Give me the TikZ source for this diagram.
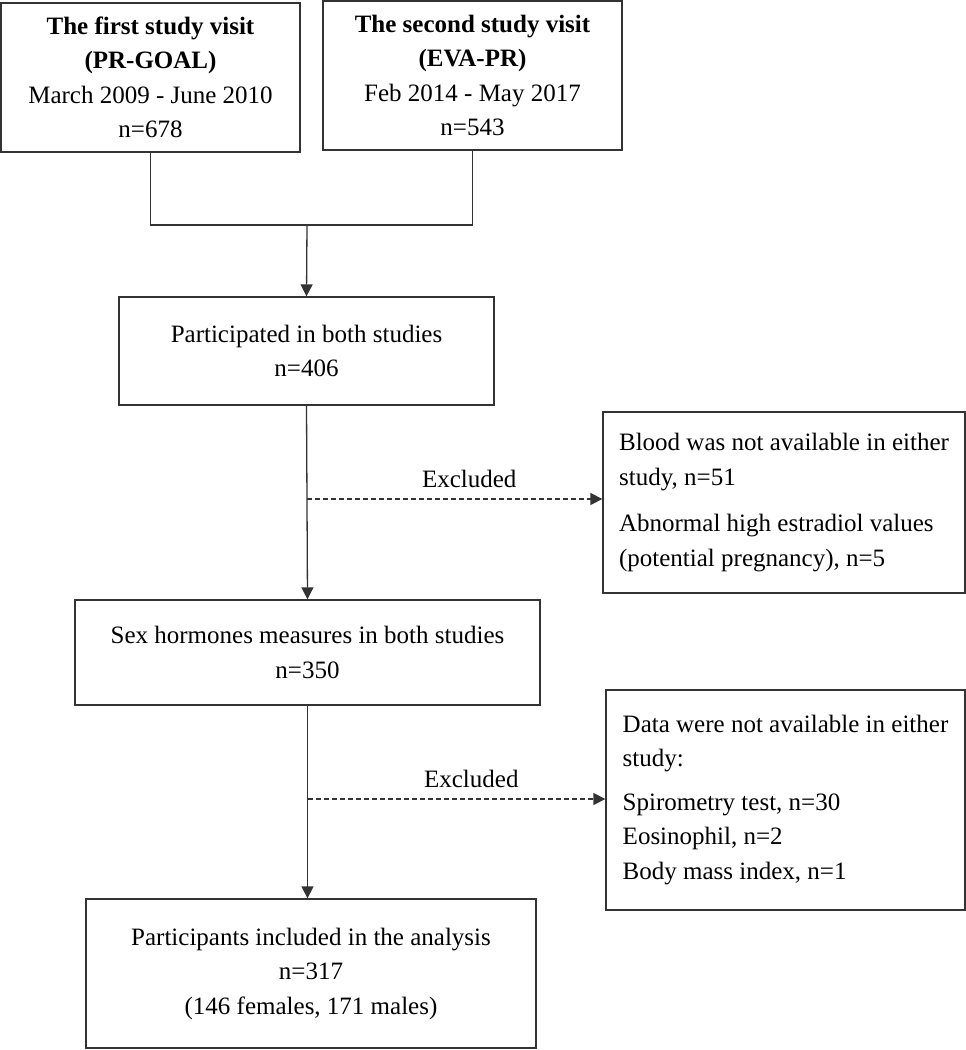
\documentclass[tikz,border=0pt]{standalone}
\usepackage{fontspec}
\setmainfont{Liberation Serif}
\usetikzlibrary{arrows.meta}

\tikzset{
    stage/.style={draw=black!80, line width=1.3pt, inner sep=0pt, align=center,
            font=\fontsize{25}{34.5}\selectfont},
    exclbox/.style={stage, align=left},
    link/.style={draw=black!80, line width=1.3pt},
    flow/.style={link, -{Triangle[length=12pt,width=12pt]}},
    dashflow/.style={flow, dash pattern=on 5pt off 3pt}
}

\begin{document}
\begin{tikzpicture}[x=1pt,y=-1pt]
    \useasboundingbox (0,0) rectangle (966,1050);

    % study visits
    \node[stage, minimum width=299pt, minimum height=149pt] (visitA) at (150.5,77.5)
        {\textbf{The first study visit}\\\textbf{(PR-GOAL)}\\March 2009 - June 2010\\n=678};
    \node[stage, minimum width=299pt, minimum height=149pt] (visitB) at (472.5,75.5)
        {\textbf{The second study visit}\\\textbf{(EVA-PR)}\\Feb 2014 - May 2017\\n=543};

    % main flow
    \node[stage, minimum width=375pt, minimum height=108pt] (both) at (306.5,351)
        {Participated in both studies\\n=406};
    \node[stage, minimum width=465pt, minimum height=105pt] (hormones) at (307.5,652.5)
        {Sex hormones measures in both studies\\n=350};
    \node[stage, minimum width=450pt, minimum height=149pt] (final) at (311,973.5)
        {Participants included in the analysis\\n=317\\(146 females, 171 males)};

    % exclusions
    \node[exclbox, minimum width=362pt, minimum height=181pt] (exclA) at (784,502.5)
        {Blood was not available in either\\study, n=51\\[12pt]Abnormal high estradiol values\\(potential pregnancy), n=5};
    \node[exclbox, minimum width=359pt, minimum height=220pt] (exclB) at (785.5,800)
        {Data were not available in either\\study:\\[9pt]Spirometry test, n=30\\Eosinophil, n=2\\Body mass index, n=1};

    % connectors
    \coordinate (join) at (307,225);
    \draw[link] (visitA.south) |- (join) -| (visitB.south);
    \draw[flow] (join) -- (both.north);
    \draw[flow] (both.south) -- (hormones.north);
    \draw[flow] (hormones.south) -- (hormones.south |- final.north);

    \coordinate (cutA) at (both.south |- 0,499);
    \draw[dashflow] (cutA) -- (cutA -| exclA.west)
        node[pos=0.55, above, inner sep=11pt, font=\fontsize{25}{30}\selectfont] {Excluded};
    \coordinate (cutB) at (hormones.south |- 0,799);
    \draw[dashflow] (cutB) -- (cutB -| exclB.west)
        node[pos=0.55, above, inner sep=11pt, font=\fontsize{25}{30}\selectfont] {Excluded};
\end{tikzpicture}
\end{document}
